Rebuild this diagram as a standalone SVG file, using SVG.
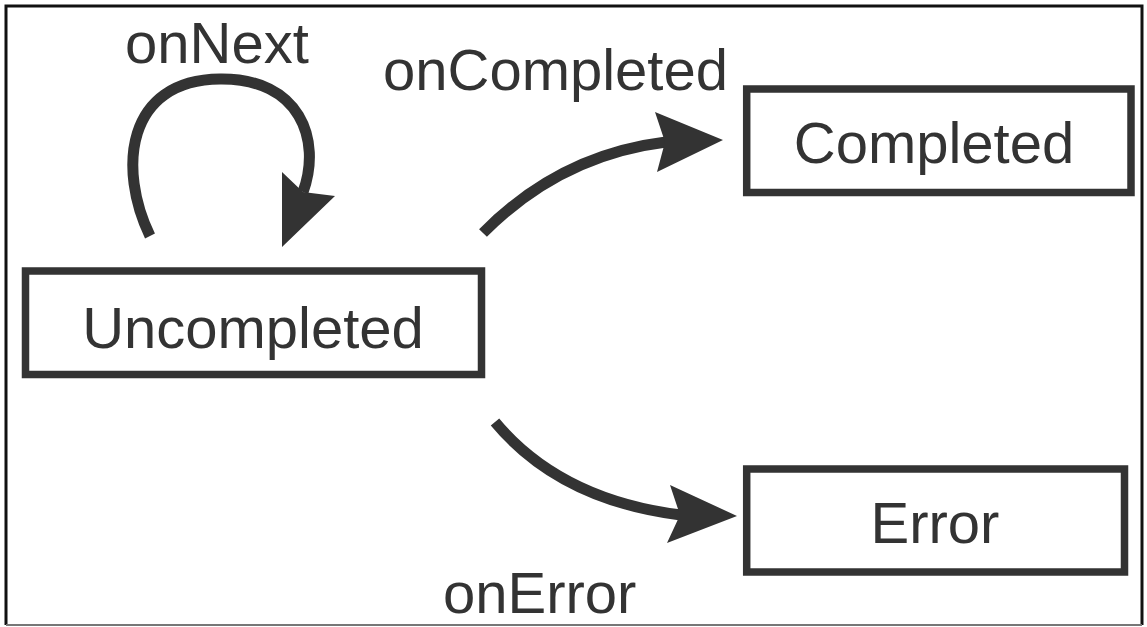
<svg xmlns="http://www.w3.org/2000/svg" width="1147" height="627" viewBox="0 0 1147 627">
<style>
.box{fill:#fff;stroke:#333;stroke-width:7.5}
.lbl{font-family:"Liberation Sans",Arial,sans-serif;font-size:58px;fill:#333}
.mid{text-anchor:middle}
.edge{fill:none;stroke:#333;stroke-width:11}
.head{fill:#333;stroke:none}
</style>
<rect x="0" y="0" width="1147" height="627" fill="#fff"/>
<path d="M6,625 L6,6 L1142,6 L1142,625" fill="none" stroke="#111" stroke-width="3"/>
<line x1="6" y1="625" x2="1142" y2="625" stroke="#777" stroke-width="2"/>
<g id="connectors">
<path class="edge" d="M150,236 C118,170 125,80 220,79 C300,78 322,140 303,192"/>
<polygon class="head" points="282,172 303,192 335,196 282,247"/>
<path class="edge" d="M483,233 Q560,155 666,142"/>
<polygon class="head" points="655,112 665,142 657,172 723,140"/>
<path class="edge" d="M495,422 Q560,500 681,515"/>
<polygon class="head" points="670,485 680,515 667,543 737,516"/>
<text class="lbl" x="125" y="63">onNext</text>
<text class="lbl" x="383" y="90">onCompleted</text>
<text class="lbl" x="443" y="613">onError</text>
</g>
<g id="uncompleted">
<rect class="box" x="25.5" y="271" width="456" height="103.5"/>
<text class="lbl mid" x="253" y="348">Uncompleted</text>
</g>
<g id="completed">
<rect class="box" x="746.7" y="89" width="384.3" height="103.5"/>
<text class="lbl mid" x="934" y="163">Completed</text>
</g>
<g id="error">
<rect class="box" x="746.7" y="469" width="377.8" height="103"/>
<text class="lbl mid" x="935" y="543">Error</text>
</g>
</svg>
